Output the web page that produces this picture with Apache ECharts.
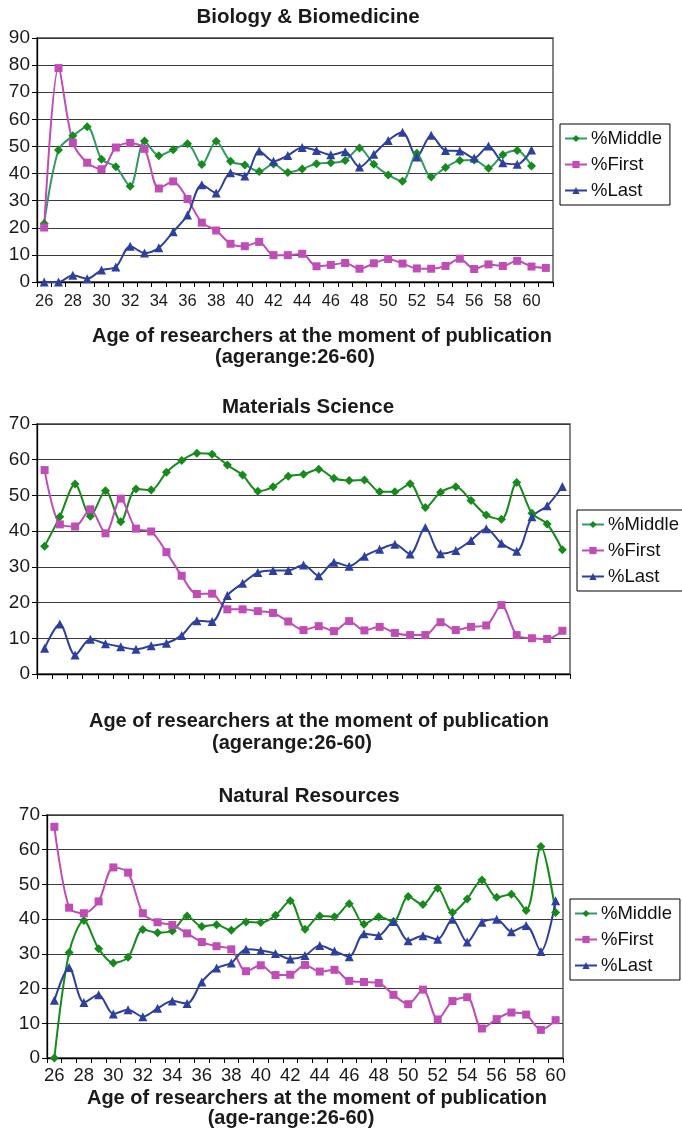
<!DOCTYPE html>
<html>
<head>
<meta charset="utf-8">
<script src="https://cdn.jsdelivr.net/npm/echarts@6/dist/echarts.min.js"></script>
<style>
html,body{margin:0;padding:0;background:#fff;}
#c{width:682px;height:1129px;}
</style>
</head>
<body>
<div id="c"></div>
<script>
// Categories (age of researchers)
const ages1 = ['26','27','28','29','30','31','32','33','34','35','36','37','38','39','40','41','42','43','44','45','46','47','48','49','50','51','52','53','54','55','56','57','58','59','60','61'];
const ages = ['26','27','28','29','30','31','32','33','34','35','36','37','38','39','40','41','42','43','44','45','46','47','48','49','50','51','52','53','54','55','56','57','58','59','60'];

// Biology & Biomedicine
const bioMiddle = [21.6,48.7,53.9,57.3,45.3,42.5,35.3,52.0,46.6,48.8,51.0,43.3,51.9,44.5,43.2,40.8,43.5,40.4,41.7,43.6,44.0,44.8,49.4,43.4,39.5,37.2,47.5,38.7,42.2,44.8,45.0,42.0,46.9,48.5,42.8];
const bioFirst = [20.1,78.9,51.4,44.0,41.6,49.6,51.3,49.1,34.5,37.1,30.6,21.9,19.0,14.1,13.2,14.8,9.9,9.9,10.4,5.8,6.3,7.0,4.9,6.9,8.5,6.8,5.0,4.9,5.9,8.6,4.8,6.5,5.9,7.8,5.7,5.2];
const bioLast = [0,0,2.5,1.2,4.4,5.5,13.2,10.7,12.6,18.5,24.7,35.9,32.8,40.3,39.1,48.3,44.5,46.7,49.6,48.5,46.9,48.0,42.4,47.1,52.2,55.2,46.1,54.1,48.5,48.3,45.7,50.2,44.0,43.4,48.7];

// Materials Science
const matMiddle = [35.8,44.0,53.2,44.2,51.3,42.6,51.8,51.5,56.5,59.8,61.8,61.5,58.5,55.7,51.2,52.4,55.4,55.9,57.3,54.8,54.2,54.3,51.0,51.0,53.3,46.6,50.9,52.4,48.6,44.5,43.3,53.6,45.0,42.0,34.8];
const matFirst = [57.1,41.9,41.3,46.1,39.4,49.1,40.7,39.9,34.1,27.5,22.4,22.5,18.1,18.1,17.6,17.1,14.7,12.3,13.4,12.0,14.8,12.2,13.2,11.5,10.9,10.9,14.5,12.3,13.2,13.6,19.3,10.9,10.0,9.8,12.1];
const matLast = [7.2,14.0,5.3,9.7,8.5,7.6,6.9,7.9,8.6,10.8,14.9,14.7,22.0,25.4,28.4,29.0,29.0,30.5,27.5,31.3,30.2,33.0,34.9,36.3,33.6,41.0,33.7,34.6,37.4,40.7,36.6,34.4,44.0,47.1,52.5];

// Natural Resources
const natMiddle = [0,30.4,39.6,31.5,27.4,29.0,37.0,36.1,36.6,40.9,37.9,38.4,36.8,39.2,39.0,41.1,45.3,37.1,40.9,40.7,44.4,38.5,40.7,39.3,46.5,44.2,48.9,41.9,45.8,51.3,46.3,47.2,42.5,60.9,41.9];
const natFirst = [66.6,43.3,41.7,45.1,54.9,53.4,41.7,39.1,38.3,35.9,33.4,32.2,31.3,25.0,26.7,23.9,24.0,26.8,24.9,25.4,22.2,21.9,21.6,18.2,15.5,19.7,11.1,16.4,17.5,8.5,11.2,13.1,12.5,8.1,10.9];
const natLast = [16.6,26.1,16.0,18.2,12.7,13.9,11.9,14.3,16.4,15.7,21.9,25.9,27.4,31.3,31.0,30.1,28.5,29.5,32.4,30.8,29.2,35.8,35.3,39.3,33.8,35.2,34.2,40.0,33.4,39.1,40.0,36.4,38.2,30.7,45.3];

const seriesNames = ['%Middle','%First','%Last'];
const chartTitles = ['Biology & Biomedicine','Materials Science','Natural Resources'];
const axisTitle = 'Age of researchers at the moment of publication';
const axisSubTitles = ['(agerange:26-60)','(agerange:26-60)','(age-range:26-60)'];

const FONT = "'Liberation Sans', Arial, Helvetica, sans-serif";
const GREEN = '#178a1c', GREEN_LINE1 = '#2f9a62', MAG = '#c04cb6', BLUE = '#2d3f9f';

const chart = echarts.init(document.getElementById('c'), null, {renderer:'canvas'});

const grids = [
  {left:37, top:38, width:516, height:244},
  {left:37, top:424, width:533, height:250},
  {left:47, top:815, width:516, height:243}
];

function xAx(i, data, showLabels, fs, margin){
  return {
    type:'category', gridIndex:i, data:data, boundaryGap:true,
    axisLine:{show:true, lineStyle:{color:'#000', width:1.3}},
    axisTick:{show:true, length:5, interval:0, lineStyle:{color:'#000'}},
    axisLabel:{show:showLabels, interval:1, fontSize:fs, color:'#1a1a1a', fontFamily:FONT, margin:margin},
    splitLine:{show:false}
  };
}
function yAx(i, max){
  return {
    type:'value', gridIndex:i, min:0, max:max, interval:10,
    axisLine:{show:true, lineStyle:{color:'#000', width:1.3}},
    axisTick:{show:true, length:5, lineStyle:{color:'#000'}},
    axisLabel:{fontSize:19, color:'#1a1a1a', fontFamily:FONT, margin:7},
    splitLine:{show:true, lineStyle:{color:'#3a3a3a', width:1.2}}
  };
}
function ser(name, idx, data, color, lineColor, symbol, size){
  return {
    name:name, type:'line', xAxisIndex:idx, yAxisIndex:idx, data:data,
    smooth:0.3, symbol:symbol, symbolSize:size, showSymbol:true, showAllSymbol:true,
    lineStyle:{color:lineColor, width:2},
    itemStyle:{color:color, borderColor:color, borderWidth:0},
    emphasis:{disabled:true}, animation:false, z:3
  };
}
function legend(left, top){
  return {
    data:seriesNames, orient:'vertical', left:left, top:top,
    borderColor:'#000', borderWidth:1, padding:[5,8,5,4],
    itemWidth:22, itemHeight:9, itemGap:7, backgroundColor:'#fff',
    textStyle:{fontSize:18.5, color:'#111', fontFamily:FONT, padding:[0,0,0,-1]}
  };
}
function txt(text, x, y, size, bold){
  return {type:'text', x:x, y:y, silent:true, style:{text:text, fill:'#1a1a1a', align:'center', verticalAlign:'middle', font:(bold?'bold ':'')+size+'px '+FONT}};
}

const option = {
  backgroundColor:'#fff',
  animation:false,
  grid: grids.map(g => Object.assign({show:true, borderColor:'#444', borderWidth:1.3, backgroundColor:'transparent'}, g)),
  xAxis:[xAx(0, ages1, true, 16.5, 11), xAx(1, ages, false, 16, 8), xAx(2, ages, true, 18.5, 8)],
  yAxis:[yAx(0, 90), yAx(1, 70), yAx(2, 70)],
  legend:[legend(560, 124), legend(577, 510), legend(570, 899)],
  series:[
    ser(seriesNames[0], 0, bioMiddle, GREEN, GREEN_LINE1, 'diamond', 9),
    ser(seriesNames[1], 0, bioFirst, MAG, MAG, 'rect', 8),
    ser(seriesNames[2], 0, bioLast, BLUE, BLUE, 'triangle', 9),
    ser(seriesNames[0], 1, matMiddle, GREEN, GREEN, 'diamond', 9),
    ser(seriesNames[1], 1, matFirst, MAG, MAG, 'rect', 8),
    ser(seriesNames[2], 1, matLast, BLUE, BLUE, 'triangle', 9),
    ser(seriesNames[0], 2, natMiddle, GREEN, GREEN, 'diamond', 9),
    ser(seriesNames[1], 2, natFirst, MAG, MAG, 'rect', 8),
    ser(seriesNames[2], 2, natLast, BLUE, BLUE, 'triangle', 9)
  ],
  graphic:[
    txt(chartTitles[0], 308, 17, 20.5, true),
    txt(axisTitle, 322, 336, 20, true),
    txt(axisSubTitles[0], 295, 357, 20, true),
    txt(chartTitles[1], 308, 407, 20.5, true),
    txt(axisTitle, 319, 721, 20, true),
    txt(axisSubTitles[1], 292, 743, 20, true),
    txt(chartTitles[2], 309, 796, 20.5, true),
    txt(axisTitle, 317, 1098, 20, true),
    txt(axisSubTitles[2], 291, 1118, 20, true)
  ]
};
chart.setOption(option);
</script>
</body>
</html>
